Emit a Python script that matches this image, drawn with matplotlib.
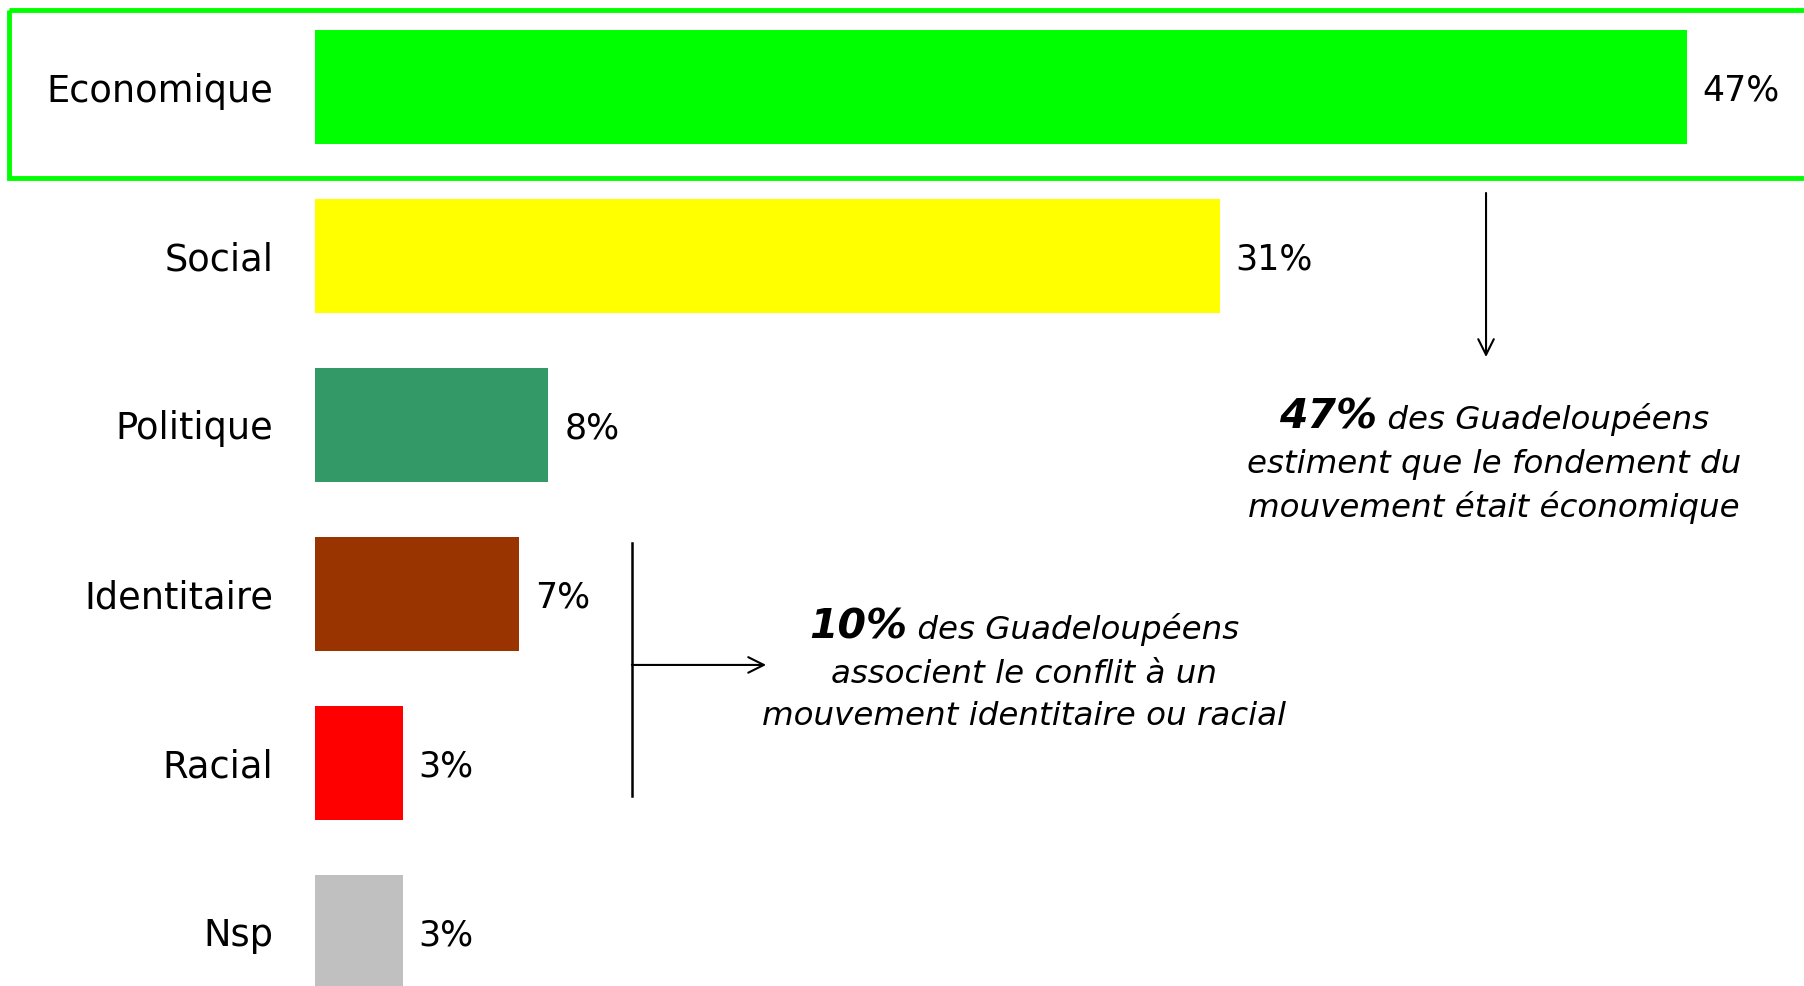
import matplotlib
matplotlib.use("Agg")
import matplotlib.pyplot as plt
from matplotlib.patches import Rectangle
from matplotlib.offsetbox import TextArea, HPacker, VPacker, AnnotationBbox

# data
categories = ["Economique", "Social", "Politique", "Identitaire", "Racial", "Nsp"]
values = [47, 31, 8, 7, 3, 3]
colors = ["#00ff00", "#ffff00", "#339966", "#993300", "#ff0000", "#c0c0c0"]

note_eco = ["47%", " des Guadeloupéens", "estiment que le fondement du", "mouvement était économique"]
note_id = ["10%", " des Guadeloupéens", "associent le conflit à un", "mouvement identitaire ou racial"]

fig = plt.figure(figsize=(18.04, 9.86), dpi=100)
ax = fig.add_axes([0.1746, 0, 0.8088, 1])

ypos = list(range(len(categories)))
ax.barh(ypos, values, height=0.67, color=colors)
ax.set_xlim(0, 50)
ax.set_ylim(5.32, -0.515)
ax.set_yticks(ypos)
ax.set_yticklabels(categories, fontsize=26.5)
ax.tick_params(axis="y", length=0, pad=30)
ax.tick_params(axis="x", bottom=False, labelbottom=False)
for s in ax.spines.values():
    s.set_visible(False)

# value labels
for y, v in zip(ypos, values):
    ax.annotate(f"{v}%", (v, y), xytext=(11.5, 0), textcoords="offset points",
                va="center_baseline", ha="left", fontsize=25)

# green frame round the first bar
ax.add_patch(Rectangle((-10.49, -0.456), 63, 0.994, fill=False,
                       ec="#00ff00", lw=3.5, clip_on=False))

# arrows
arr = dict(arrowstyle="->", lw=1.5, color="black", mutation_scale=28,
           shrinkA=0, shrinkB=0)
ax.annotate("", xy=(40.13, 1.598), xytext=(40.13, 0.627), arrowprops=arr)
ax.plot([10.86, 10.86], [2.698, 4.195], color="black", lw=1.8, clip_on=False)
ax.annotate("", xy=(15.46, 3.42), xytext=(10.86, 3.42), arrowprops=arr)


def note(lines, xy):
    big = TextArea(lines[0], textprops=dict(fontsize=29.5, fontweight="bold", fontstyle="italic"))
    rest = TextArea(lines[1], textprops=dict(fontsize=23.4, fontstyle="italic"))
    first = HPacker(children=[big, rest], align="baseline", pad=0, sep=0)
    rows = [first] + [TextArea(t, textprops=dict(fontsize=23.4, fontstyle="italic")) for t in lines[2:]]
    box = VPacker(children=rows, align="center", pad=0, sep=8)
    ab = AnnotationBbox(box, xy, xycoords="data", frameon=False, box_alignment=(0.5, 0.5))
    ax.add_artist(ab)


note(note_eco, (40.4, 2.213))
note(note_id, (24.3, 3.45))

fig.savefig("out.png", dpi=100)
